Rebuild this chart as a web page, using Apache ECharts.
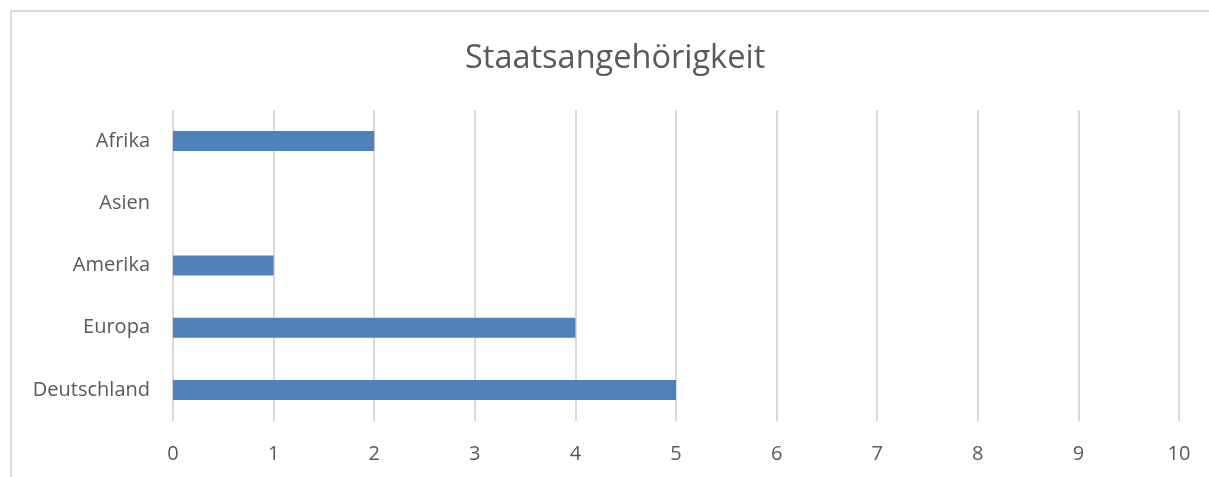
<!DOCTYPE html>
<html><head><meta charset="utf-8">
<script src="https://cdn.jsdelivr.net/npm/echarts@6/dist/echarts.min.js"></script>
<style>
html,body{margin:0;padding:0;background:#fff;}
#frame{position:absolute;left:10px;top:10px;width:1199px;height:467px;border-left:2px solid #d9d9d9;border-top:2px solid #d9d9d9;box-sizing:border-box;}
#c{position:absolute;left:0;top:0;width:1209px;height:477px;}
</style></head>
<body>
<div id="frame"></div>
<div id="c"></div>
<script>
const categories = ['Deutschland', 'Europa', 'Amerika', 'Asien', 'Afrika'];
const values = [5, 4, 1, 0, 2];
const xTicks = [0, 1, 2, 3, 4, 5, 6, 7, 8, 9, 10];

const chart = echarts.init(document.getElementById('c'), null, {renderer: 'canvas'});
chart.setOption({
  animation: false,
  title: {
    text: 'Staatsangehörigkeit',
    left: 460,
    top: 37,
    textStyle: {fontFamily: 'Open Sans', fontSize: 32.5, fontWeight: 'normal', color: '#595959'}
  },
  grid: {left: 173, right: 30, top: 110, bottom: 56, containLabel: false},
  xAxis: {
    type: 'value', min: xTicks[0], max: xTicks[xTicks.length - 1], interval: 1,
    axisLine: {show: false}, axisTick: {show: false},
    splitLine: {show: true, lineStyle: {color: '#d9d9d9', width: 2}},
    axisLabel: {fontFamily: 'Open Sans', fontSize: 20, color: '#595959', margin: 23}
  },
  yAxis: {
    type: 'category', data: categories,
    axisLine: {show: false}, axisTick: {show: false},
    axisLabel: {fontFamily: 'Open Sans', fontSize: 20, color: '#595959', margin: 23}
  },
  series: [{
    type: 'bar', data: values, barWidth: 20,
    itemStyle: {color: '#4f81bd'}
  }]
});
</script>
</body></html>
